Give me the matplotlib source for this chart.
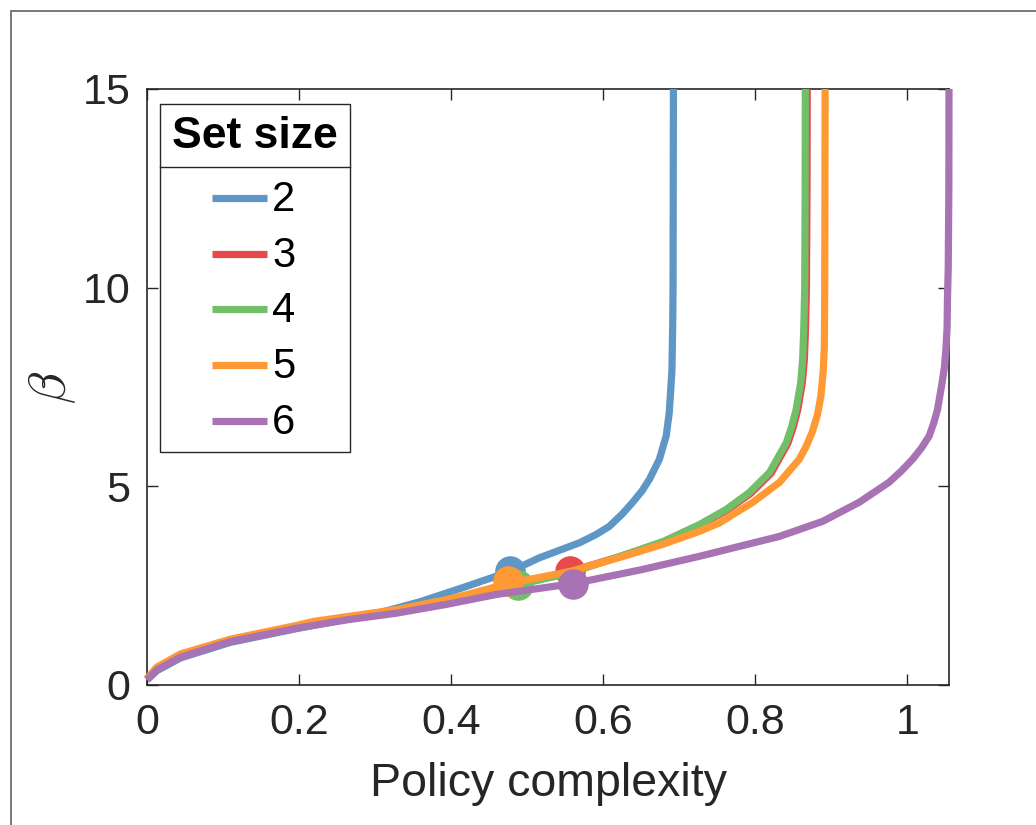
import matplotlib
matplotlib.use('Agg')
import matplotlib.pyplot as plt
from matplotlib.lines import Line2D
from matplotlib.patches import Rectangle

plt.rcParams['font.family'] = ['Liberation Sans', 'DejaVu Sans']
plt.rcParams['mathtext.fontset'] = 'cm'

# ---------------- data ----------------
set_sizes = ['2', '3', '4', '5', '6']
colors = ['#5E96C5', '#E8494D', '#72BF6A', '#FF9933', '#A873B5']

complexity_2 = [0, 0.013, 0.044, 0.109, 0.197, 0.263, 0.306, 0.36, 0.42, 0.478, 0.516,
                0.569, 0.59, 0.608, 0.625, 0.639, 0.651, 0.661, 0.674, 0.683, 0.687,
                0.6905, 0.6915, 0.692, 0.6922, 0.6925]
beta_2 = [0.13, 0.36, 0.68, 1.07, 1.42, 1.66, 1.82, 2.1, 2.48, 2.86, 3.2,
          3.58, 3.78, 3.99, 4.3, 4.6, 4.88, 5.18, 5.68, 6.27, 6.86,
          7.9, 9.0, 10, 12, 15]

complexity_3 = [0, 0.013, 0.044, 0.109, 0.197, 0.263, 0.329, 0.394, 0.42, 0.49, 0.557,
                0.62, 0.68, 0.727, 0.763, 0.794, 0.821, 0.843, 0.850, 0.856, 0.862,
                0.8648, 0.8663, 0.8675, 0.8682, 0.8685]
beta_3 = [0.15, 0.42, 0.75, 1.12, 1.46, 1.68, 1.87, 2.1, 2.2, 2.55, 2.86,
          3.22, 3.6, 4.02, 4.4, 4.82, 5.33, 6.08, 6.48, 6.92, 7.6,
          8.2, 9, 10, 12.5, 15]

complexity_4 = [0, 0.013, 0.044, 0.109, 0.197, 0.263, 0.329, 0.394, 0.42, 0.4875, 0.557,
                0.62, 0.68, 0.727, 0.762, 0.792, 0.819, 0.841, 0.848, 0.854, 0.860,
                0.8625, 0.864, 0.8652, 0.8658, 0.866]
beta_4 = [0.15, 0.42, 0.74, 1.12, 1.45, 1.68, 1.86, 2.08, 2.15, 2.52, 2.82,
          3.22, 3.62, 4.04, 4.42, 4.84, 5.35, 6.1, 6.5, 6.94, 7.62,
          8.2, 9, 10, 12.5, 15]

complexity_5 = [0, 0.013, 0.044, 0.109, 0.197, 0.219, 0.263, 0.329, 0.394, 0.42, 0.4745,
                0.557, 0.62, 0.68, 0.727, 0.753, 0.797, 0.832, 0.858, 0.867, 0.875,
                0.882, 0.8865, 0.8895, 0.891, 0.8915, 0.8918, 0.892]
beta_5 = [0.16, 0.45, 0.78, 1.15, 1.5, 1.6, 1.72, 1.9, 2.15, 2.27, 2.55,
          2.86, 3.2, 3.55, 3.87, 4.08, 4.6, 5.1, 5.68, 6.0, 6.36,
          6.8, 7.28, 7.9, 8.5, 9.8, 12, 15]

complexity_6 = [0, 0.013, 0.044, 0.109, 0.197, 0.263, 0.329, 0.394, 0.46, 0.56, 0.65,
                0.727, 0.771, 0.832, 0.889, 0.937, 0.976, 0.992, 1.007, 1.019, 1.029,
                1.035, 1.040, 1.046, 1.049, 1.051, 1.0525, 1.053, 1.054, 1.0548, 1.055]
beta_6 = [0.13, 0.38, 0.7, 1.09, 1.43, 1.64, 1.81, 2.03, 2.28, 2.55, 2.9,
          3.24, 3.45, 3.74, 4.12, 4.6, 5.1, 5.38, 5.68, 5.97, 6.27,
          6.6, 6.94, 7.62, 8.0, 8.46, 9.0, 9.72, 10.5, 12.5, 15]

dot_complexity = [0.478, 0.557, 0.4875, 0.4745, 0.560]
dot_beta = [2.86, 2.86, 2.52, 2.61, 2.55]

curves_x = [complexity_2, complexity_3, complexity_4, complexity_5, complexity_6]
curves_y = [beta_2, beta_3, beta_4, beta_5, beta_6]

x_ticks = [0, 0.2, 0.4, 0.6, 0.8, 1]
x_tick_labels = ['0', '0.2', '0.4', '0.6', '0.8', '1']
y_ticks = [0, 5, 10, 15]
y_tick_labels = ['0', '5', '10', '15']

# ---------------- figure ----------------
W, H = 1036, 825
fig = plt.figure(figsize=(W / 100, H / 100), dpi=100)
fig.patch.set_facecolor('white')


def fx(x):
    return x / W


def fy(y):
    return 1 - y / H


ax = fig.add_axes([fx(147), fy(685), (949 - 147) / W, (685 - 89) / H])

z = 2
for cx, cy, dx, dy, c in zip(curves_x, curves_y, dot_complexity, dot_beta, colors):
    ax.plot(cx, cy, color=c, lw=5.2, solid_capstyle='butt', solid_joinstyle='round',
            clip_on=False, zorder=z)
    ax.plot([dx], [dy], 'o', ms=21, color=c, mec=c, clip_on=False, zorder=z + 0.5)
    z += 1

ax.set_xlim(0, 1.055)
ax.set_ylim(0, 15)
ax.set_xticks(x_ticks)
ax.set_xticklabels(x_tick_labels)
ax.set_yticks(y_ticks)
ax.set_yticklabels(y_tick_labels)
ax.tick_params(direction='in', length=8, width=1, top=True, right=True,
               labelsize=31, colors='#262626')
ax.tick_params(axis='x', pad=13)
ax.tick_params(axis='y', pad=12)
for s in ax.spines.values():
    s.set_color('#262626')
    s.set_linewidth(1.2)
    s.set_zorder(1)

ax.set_xlabel('Policy complexity', fontsize=33.5, color='#262626', labelpad=14)
ax.set_ylabel(r'$\beta$', fontsize=38, color='#262626', va='center', ha='center')
ax.yaxis.set_label_coords((52 - 147) / 802, (685 - 387) / 596)

# ---------------- legend (drawn manually, MATLAB style) ----------------
leg_left, leg_right, leg_top, leg_bottom, leg_sep = 160, 349.5, 104, 451.5, 167
fig.add_artist(Rectangle((fx(leg_left), fy(leg_bottom)),
                         (leg_right - leg_left) / W, (leg_bottom - leg_top) / H,
                         transform=fig.transFigure, facecolor='white',
                         edgecolor='#262626', lw=1.0, zorder=10))
fig.add_artist(Line2D([fx(leg_left), fx(leg_right)], [fy(leg_sep), fy(leg_sep)],
                      transform=fig.transFigure, color='#262626', lw=1.0, zorder=11))
fig.text(fx((leg_left + leg_right) / 2), fy(137), 'Set size', fontsize=32,
         fontweight='bold', ha='center', va='center', color='black', zorder=12)
entry_y0, entry_dy = 198, 55.7
for i, (lab, c) in enumerate(zip(set_sizes, colors)):
    yy = entry_y0 + i * entry_dy
    fig.add_artist(Line2D([fx(212), fx(267)], [fy(yy), fy(yy)], transform=fig.transFigure,
                          color=c, lw=5.2, solid_capstyle='butt', zorder=12))
    fig.text(fx(272), fy(yy + 2), lab, fontsize=30, ha='left', va='center',
             color='black', zorder=12)

# ---------------- figure frame ----------------
fig.add_artist(Rectangle((fx(11), -0.5), 2, fy(11) + 0.5, transform=fig.transFigure,
                         fill=False, edgecolor='#6e6e6e', lw=1.3, zorder=20))

fig.savefig('out.png', dpi=100, facecolor='white')
